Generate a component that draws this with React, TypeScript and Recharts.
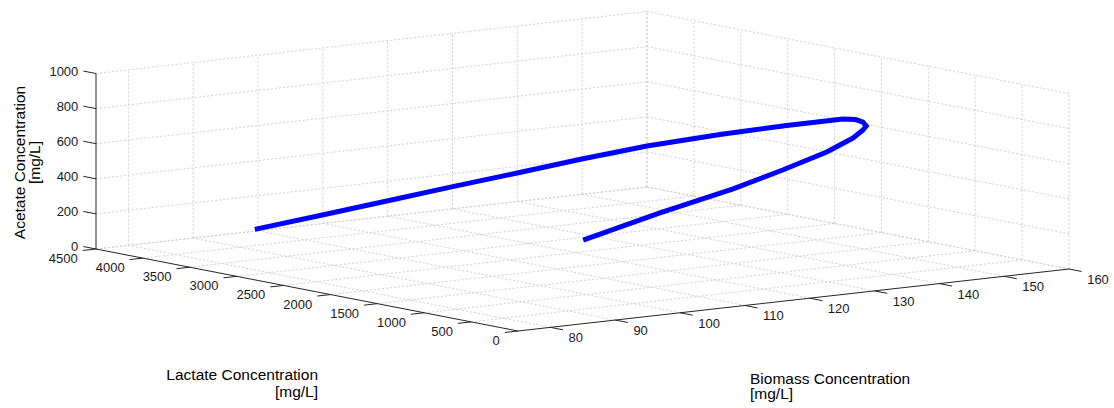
import { ComposedChart, Line, Scatter, XAxis, YAxis } from "recharts";

// trajectory (mg/L)
const biomass = [99.5, 104.7, 110.1, 115.7, 121.1, 126.5, 132.0, 138.7, 145.1, 150.5, 151.2, 151.0, 150.2, 148.4, 144.9, 137.6, 126.9, 116.0, 100.8, 85.7];
const lactate = [4500, 4140, 3825, 3510, 3195, 2880, 2565, 2250, 1980, 1755, 1665, 1575, 1485, 1395, 1260, 1035, 765, 540, 270, 45];
const acetate = [10, 108, 198, 289, 377, 467, 551, 621, 674, 712, 715, 711, 701, 695, 678, 652, 622, 583, 538, 469];

const biomassTicks = [80, 90, 100, 110, 120, 130, 140, 150, 160];
const lactateTicks = [0, 500, 1000, 1500, 2000, 2500, 3000, 3500, 4000, 4500];
const acetateTicks = [0, 200, 400, 600, 800, 1000];

const B_MIN = 75;
const B_MAX = 160;
const L_MAX = 4500;
const A_MAX = 1000;

// view plane: how far each full axis reaches (u to the right, v upward)
const B_DIR = [551, 62];
const L_DIR = [-422, 82];
const A_DIR = [0, 175.5];

const W = 1114;
const H = 408;
const FONT = "'Liberation Sans', Arial, Helvetica, sans-serif";

type Pt = { x: number; y: number | null };

function project(b: number, l: number, a: number): Pt {
  const bn = (b - B_MIN) / (B_MAX - B_MIN);
  const ln = l / L_MAX;
  const an = a / A_MAX;
  return {
    x: bn * B_DIR[0] + ln * L_DIR[0] + an * A_DIR[0],
    y: bn * B_DIR[1] + ln * L_DIR[1] + an * A_DIR[1],
  };
}

// many separate segments in one series, broken by null points
function segments(list: [number, number, number][][]): Pt[] {
  const out: Pt[] = [];
  list.forEach((seg) => {
    seg.forEach(([b, l, a]) => out.push(project(b, l, a)));
    const last = out[out.length - 1];
    out.push({ x: last.x, y: null });
  });
  return out;
}

const gridSegs: [number, number, number][][] = [];
// floor
biomassTicks.forEach((b) => gridSegs.push([[b, 0, 0], [b, L_MAX, 0]]));
lactateTicks.filter((l) => l > 0).forEach((l) => gridSegs.push([[B_MIN, l, 0], [B_MAX, l, 0]]));
// back wall (lactate = max)
biomassTicks.forEach((b) => gridSegs.push([[b, L_MAX, 0], [b, L_MAX, A_MAX]]));
acetateTicks.forEach((a) => gridSegs.push([[B_MIN, L_MAX, a], [B_MAX, L_MAX, a]]));
// side wall (biomass = max)
lactateTicks.forEach((l) => gridSegs.push([[B_MAX, l, 0], [B_MAX, l, A_MAX]]));
acetateTicks.forEach((a) => gridSegs.push([[B_MAX, 0, a], [B_MAX, L_MAX, a]]));
const gridData = segments(gridSegs);

const B_TICK = B_MIN - 0.024 * (B_MAX - B_MIN);
const L_TICK_OUT = -0.03 * L_MAX;
const L_TICK_BACK = L_MAX * 1.03;

const axisSegs: [number, number, number][][] = [
  [[B_MIN, L_MAX, 0], [B_MIN, L_MAX, A_MAX]],
  [[B_MIN, 0, 0], [B_MIN, L_MAX, 0]],
  [[B_MIN, 0, 0], [B_MAX, 0, 0]],
  ...acetateTicks.map((a) => [[B_MIN, L_MAX, a], [B_MIN, L_TICK_BACK, a]] as [number, number, number][]),
  ...lactateTicks.map((l) => [[B_MIN, l, 0], [B_TICK, l, 0]] as [number, number, number][]),
  ...biomassTicks.map((b) => [[b, 0, 0], [b, L_TICK_OUT, 0]] as [number, number, number][]),
];
const axisData = segments(axisSegs);

const curveData = biomass.map((b, i) => project(b, lactate[i], acetate[i]));

const acetateLabels = acetateTicks.map((a) => ({ ...project(B_MIN, L_TICK_BACK, a), text: String(a) }));
const lactateLabels = lactateTicks.map((l) => ({ ...project(B_TICK, l, 0), text: String(l) }));
const biomassLabels = biomassTicks.map((b) => ({ ...project(b, L_TICK_OUT, 0), text: String(b) }));

function tickText(dx: number, dy: number, anchor: "start" | "end") {
  return (p: any) => (
    <text
      x={p.cx + dx}
      y={p.cy + dy}
      dy="0.35em"
      textAnchor={anchor}
      fontSize={13}
      fontFamily={FONT}
      fill="#1a1a1a"
    >
      {p.payload.text}
    </text>
  );
}

const titleStyle = { fontSize: 15.5, fontFamily: FONT, fill: "#000" };

export default function App() {
  return (
    <div style={{ position: "absolute", left: 0, top: 0, width: W, height: H, background: "#fff" }}>
      <ComposedChart width={W} height={H} margin={{ top: 0, right: 0, bottom: 0, left: 0 }}>
        <XAxis dataKey="x" type="number" domain={[-518, W - 518]} allowDataOverflow hide />
        <YAxis dataKey="y" type="number" domain={[331 - H, 331]} allowDataOverflow hide />
        <Line
          data={gridData}
          dataKey="y"
          stroke="#cfcfcf"
          strokeWidth={1}
          strokeDasharray="2 2"
          dot={false}
          activeDot={false}
          isAnimationActive={false}
        />
        <Line
          data={axisData}
          dataKey="y"
          stroke="#262626"
          strokeWidth={1}
          dot={false}
          activeDot={false}
          isAnimationActive={false}
        />
        <Line
          data={curveData}
          dataKey="y"
          stroke="#0000ff"
          strokeWidth={5}
          dot={false}
          activeDot={false}
          isAnimationActive={false}
        />
        <Scatter data={acetateLabels} dataKey="y" shape={tickText(-5, 0, "end")} isAnimationActive={false} />
        <Scatter data={lactateLabels} dataKey="y" shape={tickText(-5, 8, "end")} isAnimationActive={false} />
        <Scatter data={biomassLabels} dataKey="y" shape={tickText(5.5, 8, "start")} isAnimationActive={false} />
      </ComposedChart>
      <svg width={W} height={H} style={{ position: "absolute", left: 0, top: 0, pointerEvents: "none" }}>
        <text x={318} y={380} textAnchor="end" {...titleStyle}>Lactate Concentration</text>
        <text x={318} y={397} textAnchor="end" {...titleStyle}>[mg/L]</text>
        <text x={750} y={384} textAnchor="start" {...titleStyle}>Biomass Concentration</text>
        <text x={750} y={399} textAnchor="start" {...titleStyle}>[mg/L]</text>
        <text x={25} y={162.5} textAnchor="middle" transform="rotate(-90 25 162.5)" {...titleStyle}>
          Acetate Concentration
        </text>
        <text x={40} y={162.5} textAnchor="middle" transform="rotate(-90 40 162.5)" {...titleStyle}>
          [mg/L]
        </text>
      </svg>
    </div>
  );
}
